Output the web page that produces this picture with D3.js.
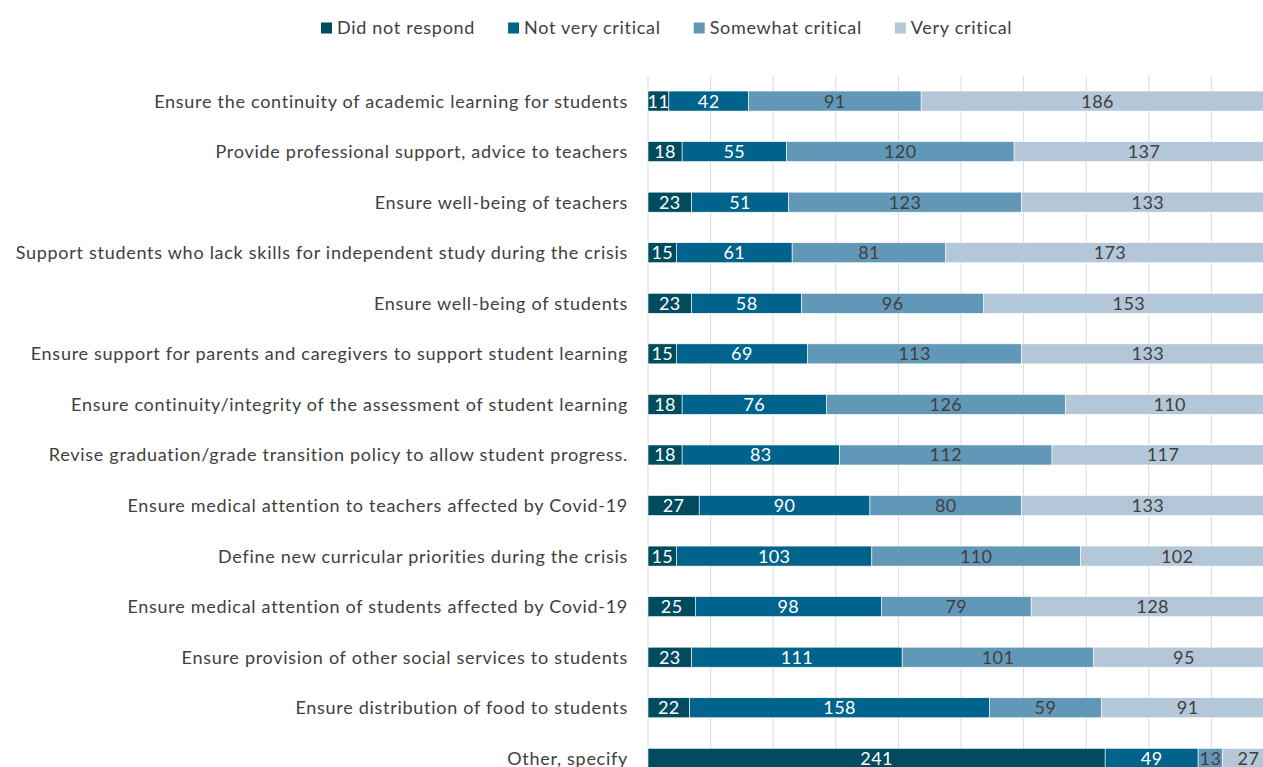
<!DOCTYPE html>
<html>
<head>
<meta charset="utf-8">
<script src="https://cdn.jsdelivr.net/npm/d3@7"></script>
<style>
  html, body { margin: 0; padding: 0; background: #fff; overflow: hidden; }
  svg { display: block; font-family: Lato, "Open Sans", sans-serif; }
</style>
</head>
<body>
<svg id="chart" width="1263" height="767"></svg>
<script>
// Chart data
const categories = [
    'Ensure the continuity of academic learning for students',
    'Provide professional support, advice to teachers',
    'Ensure well-being of teachers',
    'Support students who lack skills for independent study during the crisis',
    'Ensure well-being of students',
    'Ensure support for parents and caregivers to support student learning',
    'Ensure continuity/integrity of the assessment of student learning',
    'Revise graduation/grade transition policy to allow student progress.',
    'Ensure medical attention to teachers affected by Covid-19',
    'Define new curricular priorities during the crisis',
    'Ensure medical attention of students affected by Covid-19',
    'Ensure provision of other social services to students',
    'Ensure distribution of food to students',
    'Other, specify'
];
const seriesNames = ['Did not respond', 'Not very critical', 'Somewhat critical', 'Very critical'];
const didNotRespond    = [11, 18, 23, 15, 23, 15, 18, 18, 27, 15, 25, 23, 22, 241];
const notVeryCritical  = [42, 55, 51, 61, 58, 69, 76, 83, 90, 103, 98, 111, 158, 49];
const somewhatCritical = [91, 120, 123, 81, 96, 113, 126, 112, 80, 110, 79, 101, 59, 13];
const veryCritical     = [186, 137, 133, 173, 153, 133, 110, 117, 133, 102, 128, 95, 91, 27];
const gridTicks = [0, 0.1, 0.2, 0.3, 0.4, 0.5, 0.6, 0.7, 0.8, 0.9, 1];

const colors = ['#004b5e', '#00638b', '#6298b7', '#b3c7d9'];
const labelColors = ['#ffffff', '#ffffff', '#404040', '#404040'];

const svg = d3.select('#chart');

// Build rows with shares (100% stacked)
const rows = categories.map((name, i) => {
    const vals = [didNotRespond[i], notVeryCritical[i], somewhatCritical[i], veryCritical[i]];
    const total = d3.sum(vals);
    const row = { name, total };
    seriesNames.forEach((s, k) => { row[s] = vals[k] / total; row[s + '_raw'] = vals[k]; });
    return row;
});

const stack = d3.stack().keys(seriesNames);
const layers = stack(rows);

// Plot area runs slightly past the window edge, as in the reference
const x = d3.scaleLinear().domain([0, 1]).range([648, 1274]);
const step = 50.56;
const y = d3.scaleBand()
    .domain(categories)
    .range([60.5, 60.5 + step * (categories.length + 0.604)])
    .paddingInner(0.604)
    .paddingOuter(0.604);

// Gridlines
svg.append('g')
    .selectAll('line')
    .data(gridTicks)
    .join('line')
    .attr('x1', d => x(d)).attr('x2', d => x(d))
    .attr('y1', 76).attr('y2', 800)
    .attr('stroke', '#d9d9d9')
    .attr('stroke-width', 1);

// Bars
const layerG = svg.append('g')
    .selectAll('g')
    .data(layers)
    .join('g')
    .attr('fill', (d, i) => colors[i]);

layerG.selectAll('rect')
    .data(d => d)
    .join('rect')
    .attr('x', d => x(d[0]))
    .attr('y', d => y(d.data.name))
    .attr('width', d => x(d[1]) - x(d[0]))
    .attr('height', y.bandwidth())
    .attr('stroke', '#ffffff')
    .attr('stroke-width', 0.6);

// Value labels
layers.forEach((layer, k) => {
    svg.append('g')
        .selectAll('text')
        .data(layer)
        .join('text')
        .attr('x', d => (x(d[0]) + x(d[1])) / 2)
        .attr('y', d => y(d.data.name) + y.bandwidth() / 2)
        .attr('dy', '0.36em')
        .attr('text-anchor', 'middle')
        .attr('fill', labelColors[k])
        .style('font-size', '18px')
        .style('letter-spacing', '0.4px')
        .text(d => d.data[layer.key + '_raw']);
});

// Category labels
svg.append('g')
    .selectAll('text')
    .data(categories)
    .join('text')
    .attr('x', 628)
    .attr('y', d => y(d) + y.bandwidth() / 2)
    .attr('dy', '0.36em')
    .attr('text-anchor', 'end')
    .attr('fill', '#404040')
    .style('font-size', '18px')
    .style('letter-spacing', '0.72px')
    .text(d => d);

// Legend
const legend = svg.append('g').attr('transform', 'translate(321,28)');
let lx = 0;
seriesNames.forEach((name, i) => {
    const item = legend.append('g').attr('transform', `translate(${lx},0)`);
    item.append('rect')
        .attr('x', 0).attr('y', -5.5)
        .attr('width', 11).attr('height', 11)
        .attr('fill', colors[i]);
    const t = item.append('text')
        .attr('x', 16)
        .attr('dy', '0.36em')
        .attr('fill', '#404040')
        .style('font-size', '18px')
        .style('letter-spacing', '0.7px')
        .text(name);
    lx += 16 + t.node().getComputedTextLength() + 33;
});
</script>
</body>
</html>
